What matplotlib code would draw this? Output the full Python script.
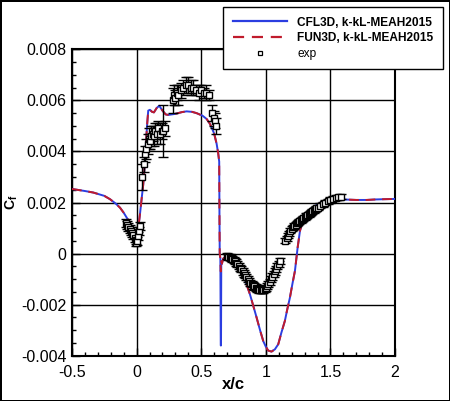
import numpy as np
import matplotlib
matplotlib.use('Agg')
import matplotlib.pyplot as plt
from matplotlib.lines import Line2D
from matplotlib.ticker import MultipleLocator, FuncFormatter

plt.rcParams['font.family'] = ['Liberation Sans', 'DejaVu Sans']
plt.rcParams['axes.unicode_minus'] = False
plt.rcParams['mathtext.fontset'] = 'custom'
plt.rcParams['mathtext.bf'] = 'Liberation Sans:bold'
plt.rcParams['mathtext.rm'] = 'Liberation Sans'

# CFD skin friction
cfd_x = [-0.5, -0.4, -0.335, -0.25, -0.206, -0.16, -0.129, -0.1, -0.077, -0.055,
         -0.039, -0.02, -0.005, 0.005, 0.015, 0.026, 0.04, 0.051, 0.06, 0.072,
         0.082, 0.09, 0.103, 0.12, 0.134, 0.155, 0.175, 0.2, 0.225, 0.245,
         0.297, 0.35, 0.387, 0.43, 0.464, 0.51, 0.542, 0.565, 0.58, 0.6,
         0.619, 0.632, 0.639, 0.641, 0.643, 0.648, 0.651, 0.653, 0.655, 0.66,
         0.67, 0.69, 0.722, 0.75, 0.79, 0.825, 0.85, 0.877, 0.9, 0.928,
         0.955, 0.98, 1.0, 1.018, 1.044, 1.07, 1.096, 1.12, 1.147, 1.165,
         1.186, 1.205, 1.225, 1.246, 1.264, 1.28, 1.302, 1.33, 1.367, 1.4,
         1.444, 1.48, 1.521, 1.6, 1.7, 1.78, 1.85, 1.92, 2.0]
cfl3d_cf = [0.00253, 0.00245, 0.00239, 0.00226, 0.00213, 0.00195, 0.0018, 0.0016, 0.00141, 0.00124,
            0.00109, 0.0009, 0.0007, 0.0007, 0.0011, 0.00155, 0.0022, 0.0027, 0.0033, 0.0043,
            0.0051, 0.0056, 0.00563, 0.00555, 0.00553, 0.0057, 0.00579, 0.0056, 0.00545, 0.00543,
            0.00547, 0.00554, 0.00557, 0.00555, 0.0055, 0.0054, 0.00527, 0.0051, 0.00494, 0.0047,
            0.0043, 0.0039, 0.0036, 0.0015, 0.0, -0.0002, -0.0036, -0.0036, -0.0003, -0.0004,
            -0.0002, -0.0001, -0.0001, -0.0002, -0.00045, -0.0008, -0.0012, -0.0016, -0.002, -0.0025,
            -0.003, -0.00343, -0.00365, -0.0038, -0.00384, -0.00375, -0.00355, -0.0031, -0.00264, -0.0022,
            -0.00173, -0.0012, -0.00068, 0.00024, 0.00089, 0.00118, 0.00141, 0.00163, 0.0018, 0.00193,
            0.00204, 0.0021, 0.00214, 0.00212, 0.0021, 0.0021, 0.00212, 0.00213, 0.00214]
fun3d_cf = [0.00253, 0.00245, 0.00239, 0.00226, 0.00213, 0.00195, 0.0018, 0.0016, 0.00141, 0.00124,
            0.00109, 0.0009, 0.0007, 0.0007, 0.0011, 0.00155, 0.0022, 0.0027, 0.0033, 0.0043,
            0.0051, 0.0056, 0.00563, 0.00555, 0.00553, 0.0057, 0.00579, 0.0056, 0.00545, 0.00543,
            0.00547, 0.00554, 0.00557, 0.00555, 0.0055, 0.0054, 0.00527, 0.0051, 0.00494, 0.0047,
            0.0043, 0.0039, 0.0036, 0.0015, 0.0, -0.0002, -0.0007, -0.0006, -0.0003, -0.0004,
            -0.0002, -0.0001, -0.0001, -0.0002, -0.00045, -0.0008, -0.0012, -0.0016, -0.002, -0.0025,
            -0.003, -0.00343, -0.00365, -0.0038, -0.00384, -0.00375, -0.00355, -0.0031, -0.00264, -0.0022,
            -0.00173, -0.0012, -0.00068, 0.00024, 0.00089, 0.00118, 0.00141, 0.00163, 0.0018, 0.00193,
            0.00204, 0.0021, 0.00214, 0.00212, 0.0021, 0.0021, 0.00212, 0.00213, 0.00214]

# experiment
exp_x = [-0.085, -0.075, -0.065, -0.055, -0.045, -0.035, -0.025, -0.015, -0.008, -0.002,
         0.005, 0.012, 0.02, 0.028,
         0.045, 0.055, 0.065, 0.075, 0.085, 0.095, 0.105, 0.115, 0.125, 0.135,
         0.145, 0.155, 0.165, 0.18, 0.195, 0.205, 0.22,
         0.28, 0.29, 0.3, 0.31, 0.32, 0.34, 0.36, 0.38, 0.4, 0.42,
         0.44, 0.46, 0.48, 0.5, 0.52, 0.54, 0.56,
         0.585, 0.595, 0.605, 0.615,
         0.7, 0.71, 0.72, 0.73, 0.74, 0.75, 0.76, 0.77, 0.78, 0.79,
         0.8, 0.81, 0.82, 0.83, 0.84, 0.85, 0.86, 0.87, 0.88, 0.89,
         0.9, 0.91, 0.92, 0.93, 0.94, 0.95, 0.96, 0.97, 0.98, 0.99,
         1.0, 1.01, 1.02, 1.03, 1.04, 1.05, 1.06, 1.07, 1.08, 1.09, 1.1, 1.11,
         1.15, 1.16, 1.17, 1.18, 1.19, 1.2, 1.21, 1.22, 1.23, 1.24,
         1.25, 1.26, 1.27, 1.28, 1.29, 1.3, 1.31, 1.32, 1.33, 1.34,
         1.35, 1.36, 1.37, 1.38, 1.39, 1.4, 1.42, 1.44, 1.46, 1.48,
         1.5, 1.52, 1.54, 1.56, 1.58]
exp_cf = [0.0012, 0.00112, 0.00104, 0.00096, 0.00089, 0.00081, 0.00072, 0.00062, 0.00052, 0.00043,
          0.0005, 0.00068, 0.00088, 0.00108,
          0.003, 0.0035, 0.0039, 0.0041, 0.0043, 0.0045, 0.0044, 0.0046, 0.0047, 0.0046,
          0.0048, 0.0047, 0.0049, 0.0047, 0.0048, 0.0048, 0.0049,
          0.006, 0.0062, 0.0061, 0.0063, 0.0062, 0.0064, 0.0065, 0.0066, 0.0066, 0.0065,
          0.0065, 0.0064, 0.0063, 0.0064, 0.0063, 0.0063, 0.0062,
          0.0055, 0.0053, 0.0052, 0.005,
          -0.0001, -0.00012, -0.00015, -0.00018, -0.0002, -0.00025, -0.0003, -0.00035, -0.0004, -0.00048,
          -0.00055, -0.00062, -0.0007, -0.00078, -0.00085, -0.00092, -0.001, -0.00108, -0.00115, -0.0012,
          -0.00125, -0.00129, -0.00133, -0.00137, -0.0014, -0.00142, -0.00143, -0.00143, -0.00142, -0.00139,
          -0.00135, -0.00128, -0.0012, -0.0011, -0.001, -0.0009, -0.0008, -0.0007, -0.0006, -0.0005, -0.0004, -0.0003,
          0.0005, 0.0006, 0.0007, 0.0008, 0.0009, 0.00098, 0.00103, 0.00108, 0.00113, 0.00118,
          0.00123, 0.00127, 0.00131, 0.00135, 0.00139, 0.00143, 0.00147, 0.0015, 0.00154, 0.00158,
          0.00162, 0.00166, 0.0017, 0.00174, 0.00177, 0.0018, 0.00187, 0.00193, 0.00199, 0.00205,
          0.0021, 0.00214, 0.00218, 0.00221, 0.00223]
exp_err = [0.00015] * 14 + \
          [0.0005, 0.0003, 0.0003, 0.0004, 0.0004, 0.0004, 0.0003, 0.0004, 0.0003, 0.0004,
           0.0003, 0.0004, 0.0003, 0.0004, 0.0003, 0.001, 0.0003] + \
          [0.0005, 0.0004, 0.0003, 0.0003, 0.0004, 0.0003, 0.0003, 0.0003, 0.0003, 0.0003,
           0.0003, 0.0002, 0.0003, 0.0002, 0.0002, 0.0003, 0.0002] + \
          [0.0003, 0.0003, 0.0003, 0.0003] + \
          [0.00012] * 42 + \
          [0.0001] * 35

fig = plt.figure(figsize=(4.5, 4.01), dpi=100)
fig.patch.set_edgecolor('black')
fig.patch.set_linewidth(2)
ax = fig.add_axes([0.16, 0.113, 0.718, 0.764])

ax.grid(True, color='black', linewidth=1.0)
ax.set_axisbelow(True)

ax.plot(cfd_x, cfl3d_cf, color='#2b3de0', linewidth=1.4, zorder=3)
ln, = ax.plot(cfd_x, fun3d_cf, color='#c01b2c', linewidth=1.4, zorder=4)
ln.set_dashes((5, 3.5))
ax.errorbar(exp_x, exp_cf, yerr=exp_err, fmt='s', markersize=4,
            markerfacecolor='white', markeredgecolor='black', markeredgewidth=1.0,
            ecolor='black', elinewidth=1.0, capsize=3.4, capthick=1.0, zorder=5)

ax.set_xlim(-0.5, 2)
ax.set_ylim(-0.004, 0.008)
ax.xaxis.set_major_locator(MultipleLocator(0.5))
ax.xaxis.set_minor_locator(MultipleLocator(0.1))
ax.yaxis.set_major_locator(MultipleLocator(0.002))
ax.yaxis.set_minor_locator(MultipleLocator(0.0005))
ax.xaxis.set_major_formatter(FuncFormatter(lambda v, p: '%g' % v))
ax.yaxis.set_major_formatter(FuncFormatter(lambda v, p: '0' if abs(v) < 1e-12 else '%.3f' % v))
ax.tick_params(which='both', direction='in', top=False, right=False, width=1.0)
ax.tick_params(which='major', length=6, labelsize=11.5)
ax.tick_params(axis='y', which='major', pad=4)
ax.tick_params(axis='x', which='major', pad=7)
ax.tick_params(which='minor', length=3)
for s in ax.spines.values():
    s.set_linewidth(1.5)

ax.set_xlabel('x/c', fontsize=12, fontweight='bold')
ax.xaxis.set_label_coords(0.5, -0.07)
ax.set_ylabel(r'$\mathbf{C}_\mathbf{f}$', fontsize=10)
ax.yaxis.set_label_coords(-0.162, 0.5)

handles = [Line2D([], [], color='#2b3de0', linewidth=1.6),
           Line2D([], [], color='#c01b2c', linewidth=1.6, dashes=(5, 3.5)),
           Line2D([], [], linestyle='none', marker='s', markersize=3.0,
                  markerfacecolor='white', markeredgecolor='black', markeredgewidth=0.9)]
labels = ['CFL3D, k-kL-MEAH2015', 'FUN3D, k-kL-MEAH2015', 'exp']
leg = ax.legend(handles, labels, loc='upper right', bbox_to_anchor=(443 / 450, 1 - 7 / 401),
                bbox_transform=fig.transFigure, borderaxespad=0, fancybox=False,
                framealpha=1, edgecolor='black', prop={'size': 8.6, 'weight': 'bold'},
                handlelength=4.5, handletextpad=0.9, labelspacing=0.3, borderpad=0.8)
leg.get_frame().set_linewidth(1.0)
leg.set_zorder(10)
leg.get_texts()[2].set_fontweight('normal')

fig.savefig('out.png', dpi=100)
